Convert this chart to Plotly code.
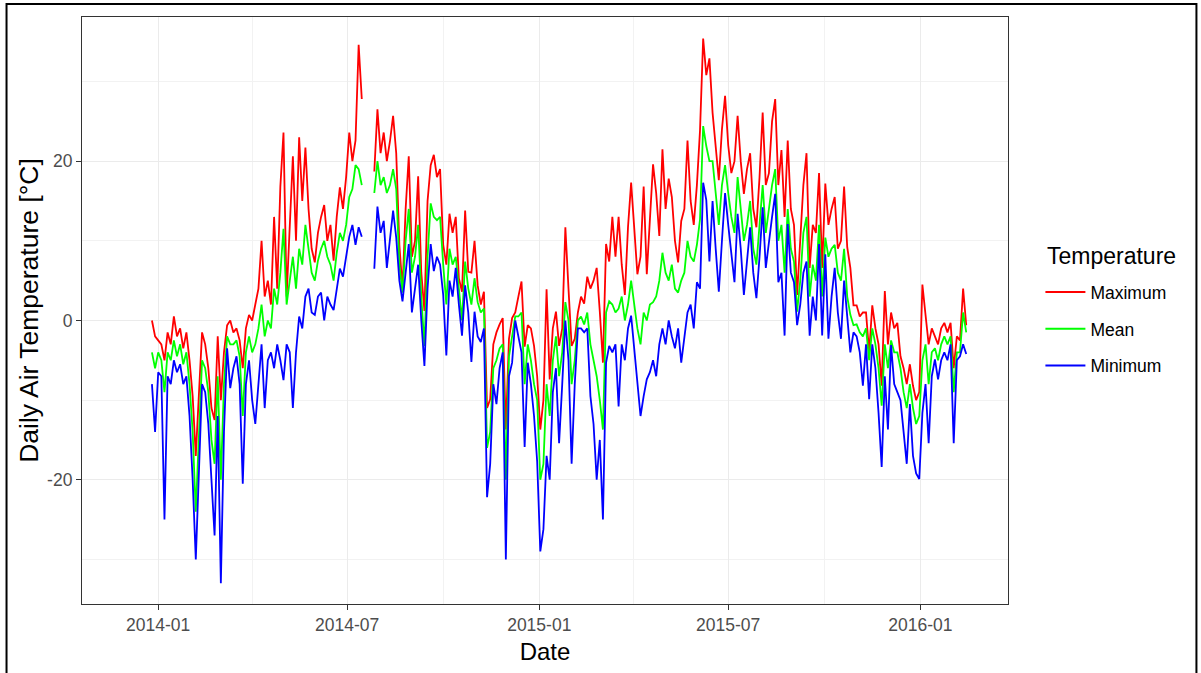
import pandas as pd
import plotly.graph_objects as go

# ---- data (one value every 3 days) ----
start_date = "2013-12-26"
step_days = 3

max_temp = [
    0, -2, -2.5, -3, -5, -1.5, -3, 0.5, -2, -1,
    -3.5, -1.5, -5, -9.5, -17, -10, -1.5, -3, -6, -11,
    -12.5, -2, -10, -4, -0.6, 0, -1.5, -1, -2.5, -6,
    -1, 0.7, 0, 2, 4, 10, 3, 5, 2, 13,
    4, 16.8, 23.6, 3, 12, 20.6, 10, 23, 15, 21.7,
    14, 9, 7.3, 11, 13, 14.5, 10, 12, 7.5, 13,
    16.7, 14, 18, 23.6, 20, 22.6, 34.6, 27.8, None, None,
    None, 18.7, 26.5, 21, 23.6, 20, 22.5, 25.7, 21, 9.5,
    4, 14, 20.6, 8, 10, 18.1, 6, 1.2, 15, 19.5,
    20.8, 18, 19, 9.5, 7, 13.4, 11, 13, 5.3, 3.6,
    13.8, 6.1, 6, 10, 4.4, 2, 3.6, -11, -9.9, -3,
    -1.5, -0.5, 0.3, -13.7, -2.3, 0.3, 1, 3, 4.9, -3.3,
    -0.6, -1, -3.2, -7, -13.7, -10, 3.9, -7.4, -1, 1.1,
    -3.2, -1, 11.7, 4, -3.2, -2.3, 1, 3, 2.1, 5.5,
    4, 5, 6.6, 1.1, -5.3, 9.6, 7.4, 13, 8, 13,
    7, 3.2, 11.7, 17.3, 11.7, 5.8, 8, 16.8, 5.8, 13.5,
    19.6, 16, 10.6, 21.5, 14, 17.8, 15.5, 10, 7.3, 12.5,
    14, 22.6, 15, 12, 17, 23.9, 35.4, 30.8, 32.9, 26.1,
    22, 17.6, 24, 28.2, 22, 18.5, 20, 25.7, 20, 15.9,
    19, 21, 14, 11.7, 18, 26.1, 17, 18.5, 25, 27.8,
    17, 21.4, 13, 22.6, 14, 12, 3.2, 10, 17, 21,
    6.6, 12, 11, 18.5, 6.6, 17.2, 12, 14, 15.5, 9,
    10, 16.8, 9.2, 6.6, 1.9, 1.9, 0.5, 1, 1, -4,
    1.9, -1, -3, -8.2, 3.7, -3, 1, -1, -0.3, -4.5,
    -6, -8, -5.5, -8.2, -10, -9, 4.5, 0.7, -3, -1,
    -2, -3, -1, -0.3, -1.5, -0.3, -6, -2, -2.5, 4,
    -0.6,
]

mean_temp = [
    -4, -6, -4, -5, -9, -4, -5, -2.5, -4.5, -3,
    -5.5, -4, -8, -14, -24, -15, -5, -6, -9, -15,
    -18, -7, -20, -8, -2, -3, -3, -2.5, -4.5, -12,
    -4, -2, -4, -3, -1, 2, -2, 0, -1, 4,
    2, 6, 11.5, 2, 5, 8, 4, 9, 7, 12,
    9, 6, 5, 7.5, 9, 10, 8, 7, 5, 8.5,
    11, 10, 12, 15.5, 16.5, 19.5, 19, 17, None, None,
    None, 16, 20, 17, 18, 16, 17, 19, 16.5, 7,
    3.5, 10, 14, 6, 8, 12, 3, -3.2, 8, 14.7,
    13, 12.6, 13, 7, 2, 9, 7, 8, 4, 0,
    7.4, 4, 2, 5.3, 2.3, 1, 1.5, -16, -14, -6,
    -5, -3.5, -3, -20, -4.5, -2, 0.5, 0.5, 1, -8,
    -3, -5, -8, -10, -20, -18, -8, -12, -5, -2,
    -7, -4, 2.3, 0, -8, -5, 0, 0.5, -0.5, 1,
    -3, -5, -7, -10, -13.7, 1, 2.4, 2, 1, 1.5,
    3, 0, 2, 5, 2, -1, -3, 1, 0, 2,
    2.3, 3, 5, 8.5, 6, 5, 7, 4, 3.5, 5,
    6, 10, 8, 7.4, 9.5, 12.7, 24.4, 21.9, 20, 20,
    16, 12, 17, 19.5, 16, 13, 11, 18, 14, 10,
    12, 15, 9, 7, 12, 17, 11, 14, 17, 19,
    10, 12, 6, 14, 9, 7.4, 1.1, 5, 11, 13,
    3, 7, 5, 12, 3, 10.4, 8, 9, 9.5, 6,
    5, 9, 3, 0.7, -0.6, -0.5, -1.5, -2, -1, -5,
    -1, -3, -6, -10.7, -3, -6, -2.5, -4, -4, -6,
    -9, -11, -8, -11, -13, -12, -5, -3, -8, -4,
    -3.5, -5, -3, -2, -3, -2, -9, -4, -4, 1,
    -1.5,
]

min_temp = [
    -8, -14, -6.5, -7, -25, -7, -8, -5, -6.5, -5.5,
    -8, -7, -12, -20, -30, -20, -8, -9, -13, -20,
    -27, -12, -33, -14, -3.5, -8.5, -6, -4.5, -8, -20.5,
    -8, -5, -10, -13, -8, -3, -11, -5, -4, -6,
    -3, -5, -7.5, -3, -4, -11, -4, 0.5, -1, 3,
    4, 1, 0.7, 3, 3.5, 0, 3, 2, 1.3, 4,
    6.5, 5.5, 8, 10.5, 12, 9.5, 11.7, 10.5, None, None,
    None, 6.5, 14.3, 11, 12.5, 6.6, 10, 13.8, 10.4, 5,
    2.4, 6, 9.6, 1, 4, 7, 0, -5.7, 4, 9.6,
    6.2, 8, 7, 3.2, -4.4, 5, 3, 6.6, 2, -1.9,
    4.4, 1, -5.2, 1.1, -2, -2.7, -1, -22.2, -18, -8,
    -10.5, -6, -4, -30, -7, -5.3, 0, -2, -4, -15.9,
    -5.3, -8, -12, -17.7, -29, -26.2, -17, -20, -9, -6,
    -15.4, -8, 0, -5, -18, -8, -1, -1, -1.5, -1,
    -9.5, -13, -20, -15, -25, -5.3, -3.2, -4, -3, -10.8,
    -3, -5, -1, 0.6, -3.5, -7.4, -12, -9.5, -7.4, -6.5,
    -5, -7, -3, -1, -3, 0, -2, -3.5, -1, -5.3,
    -2, 1, 2, -1, 4.8, 4, 17.3, 15.1, 7.4, 15,
    9, 3.6, 10, 16, 12, 8, 4.8, 13.4, 9, 3.2,
    8, 11.7, 6, 2.8, 8, 14.2, 6.6, 10, 13, 15.9,
    4.8, 6, -1.9, 12.1, 6, 4.8, -0.6, 2, 6, 7.4,
    -1.9, 3, 0, 9.6, -1.9, 8.3, -2.3, 3, 6.6, 1,
    -2.3, 5, 0.7, -4, -1.5, -2, -4, -8.2, -3, -9.9,
    -3, -6, -11.6, -18.4, -7, -13.7, -3.1, -8, -9, -10,
    -14, -18, -10.5, -17, -19.2, -19.9, -11.6, -8, -15.4, -7,
    -4.9, -7.4, -5, -4, -5, -3, -15.4, -5, -4.5, -3,
    -4.2,
]

series_names = ["Maximum", "Mean", "Minimum"]
series_colors = ["#FF0000", "#00FF00", "#0000FF"]
legend_title = "Temperature"

x_tick_vals = ["2014-01-01", "2014-07-01", "2015-01-01", "2015-07-01", "2016-01-01"]
x_tick_text = ["2014-01", "2014-07", "2015-01", "2015-07", "2016-01"]
x_minor_vals = ["2014-04-01", "2014-10-01", "2015-04-01", "2015-10-01"]
y_tick_vals = [-20, 0, 20]
y_tick_text = ["-20", "0", "20"]
y_minor_vals = [-30, -10, 10, 30]

dates = pd.date_range(start_date, periods=len(max_temp), freq=f"{step_days}D")

FONT = "Liberation Sans, Arial, sans-serif"
fig = go.Figure()
for name, vals, color in zip(series_names, [max_temp, mean_temp, min_temp], series_colors):
    fig.add_trace(go.Scatter(
        x=dates, y=vals, mode="lines", name=name, legendgroup=name,
        line=dict(color=color, width=1.8), connectgaps=False,
    ))

axis_common = dict(
    showgrid=True, gridcolor="#EBEBEB", gridwidth=1.1,
    showline=True, mirror=True, linecolor="#333333", linewidth=1.2,
    ticks="outside", ticklen=5, tickwidth=1.1, tickcolor="#333333",
    tickfont=dict(family=FONT, size=17.5, color="#4D4D4D"),
    zeroline=False,
)

fig.update_layout(
    width=1201, height=673,
    margin=dict(l=82, r=193, t=17, b=65),
    paper_bgcolor="white", plot_bgcolor="white",
    font=dict(family=FONT, color="black"),
    xaxis=dict(
        range=["2013-10-20", "2016-03-25"],
        tickmode="array", tickvals=x_tick_vals, ticktext=x_tick_text,
        minor=dict(tickvals=x_minor_vals, showgrid=True, gridcolor="#F2F2F2", gridwidth=0.6, ticks=""),
        title=dict(text="Date", font=dict(family=FONT, size=24, color="black"), standoff=9),
        **axis_common,
    ),
    yaxis=dict(
        range=[-35.6, 38.1],
        tickmode="array", tickvals=y_tick_vals, ticktext=y_tick_text,
        minor=dict(tickvals=y_minor_vals, showgrid=True, gridcolor="#F2F2F2", gridwidth=0.6, ticks=""),
        title=dict(text="Daily Air Temperature [°C]", font=dict(family=FONT, size=26.5, color="black"), standoff=0),
        **axis_common,
    ),
    legend=dict(
        x=1.035, y=0.562, xanchor="left", yanchor="top",
        font=dict(family=FONT, size=17.5, color="black"),
        traceorder="grouped", tracegroupgap=11, itemwidth=40,
        bgcolor="rgba(0,0,0,0)",
    ),
    showlegend=True,
    annotations=[dict(
        text=legend_title, xref="paper", yref="paper",
        x=(1045 - 82) / 926, y=(608 - 258) / 591, xanchor="left", yanchor="middle",
        showarrow=False, font=dict(family=FONT, size=23, color="black"),
    )],
    shapes=[dict(
        type="rect", xref="paper", yref="paper",
        x0=-0.0815, x1=1.2035, y0=-0.16, y1=1.022,
        line=dict(color="black", width=2), fillcolor="rgba(0,0,0,0)", layer="above",
    )],
)

fig.write_html("out.html")
